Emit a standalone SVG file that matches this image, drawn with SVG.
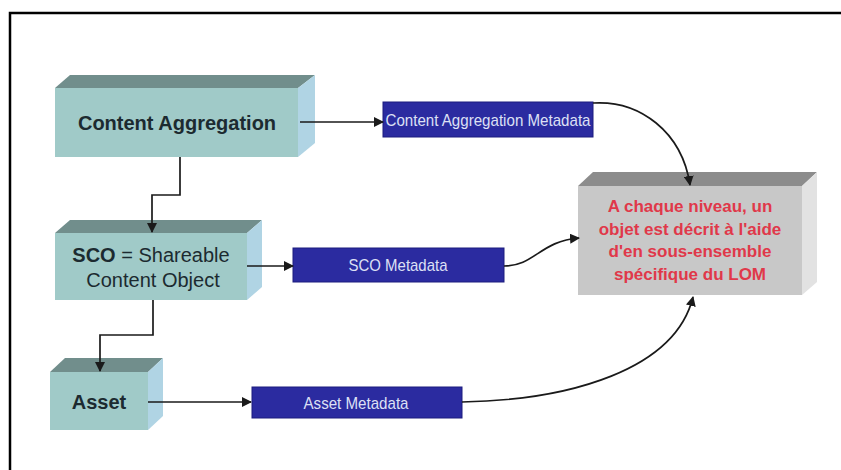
<svg xmlns="http://www.w3.org/2000/svg" width="841" height="470" viewBox="0 0 841 470">
  <style>
    .front { fill: #a0cac8; }
    .top { fill: #718e8c; }
    .side { fill: #b0d4e4; }
    .lbl { font-family: "Liberation Sans", Arial, sans-serif; font-size: 20px; fill: #1c2a30; text-anchor: middle; }
    .b { font-weight: bold; }
    .meta rect { fill: #2b2ba0; stroke: #1c1c7e; stroke-width: 1; }
    .meta text { font-family: "Liberation Sans", Arial, sans-serif; font-size: 17px; fill: #dde0f5; text-anchor: middle; }
    .red { font-family: "Liberation Sans", Arial, sans-serif; font-size: 17px; font-weight: bold; fill: #e0384a; text-anchor: middle; }
    .conn path { fill: none; stroke: #1a1a1a; stroke-width: 1.7; marker-end: url(#arr); }
  </style>
  <defs>
    <marker id="arr" viewBox="0 0 10 10" refX="9" refY="5" markerWidth="10" markerHeight="10" markerUnits="userSpaceOnUse" orient="auto">
      <path d="M0,0 L10,5 L0,10 z" fill="#1a1a1a"/>
    </marker>
  </defs>
  <rect x="0" y="0" width="841" height="470" fill="#ffffff"/>
  <path d="M10,470 V13 H841" fill="none" stroke="#000" stroke-width="2.5"/>

  <g id="content-aggregation">
    <polygon class="top" points="55,88 70,75 315,75 298,88"/>
    <polygon class="side" points="298,88 315,75 315,143 298,157"/>
    <rect class="front" x="55" y="88" width="243" height="69"/>
    <text class="lbl b" x="177" y="130">Content Aggregation</text>
  </g>

  <g id="sco">
    <polygon class="top" points="55,233 70,220 262,220 247,233"/>
    <polygon class="side" points="247,233 262,220 262,287 247,300"/>
    <rect class="front" x="55" y="233" width="192" height="67"/>
    <text class="lbl" x="151" y="262"><tspan class="b">SCO</tspan> = Shareable</text>
    <text class="lbl" x="153" y="287">Content Object</text>
  </g>

  <g id="asset">
    <polygon class="top" points="50,372 65,358 163,358 148,372"/>
    <polygon class="side" points="148,372 163,358 163,416 148,430"/>
    <rect class="front" x="50" y="372" width="98" height="58"/>
    <text class="lbl b" x="99" y="409">Asset</text>
  </g>

  <g id="ca-metadata" class="meta">
    <rect x="383" y="102" width="210" height="35"/>
    <text x="488" y="126" textLength="205" lengthAdjust="spacingAndGlyphs">Content Aggregation Metadata</text>
  </g>

  <g id="sco-metadata" class="meta">
    <rect x="293" y="248" width="211" height="34"/>
    <text x="398" y="271" textLength="99" lengthAdjust="spacingAndGlyphs">SCO Metadata</text>
  </g>

  <g id="asset-metadata" class="meta">
    <rect x="252" y="387" width="210" height="31"/>
    <text x="356" y="409" textLength="105" lengthAdjust="spacingAndGlyphs">Asset Metadata</text>
  </g>

  <g id="lom">
    <polygon points="578,186 593,172 817,172 802,186" fill="#8c8c8c"/>
    <polygon points="802,186 817,172 817,282 802,295" fill="#e2e2e2"/>
    <rect x="578" y="186" width="224" height="109" fill="#c8c8c8"/>
    <text class="red" x="690" y="212">A chaque niveau, un</text>
    <text class="red" x="690" y="235">objet est décrit à l'aide</text>
    <text class="red" x="690" y="257">d'en sous-ensemble</text>
    <text class="red" x="690" y="280">spécifique du LOM</text>
  </g>

  <g id="connectors" class="conn">
    <path d="M180,157 V195 H152 V232"/>
    <path d="M153,300 V335 H100 V371"/>
    <path d="M300,122 H383"/>
    <path d="M247,266 H293"/>
    <path d="M148,402 H251"/>
    <path d="M593,103 C640,100 682,132 690,185"/>
    <path d="M504,266 C535,266 540,241 579,238"/>
    <path d="M462,402 C570,400 675,370 693,297"/>
  </g>
</svg>
